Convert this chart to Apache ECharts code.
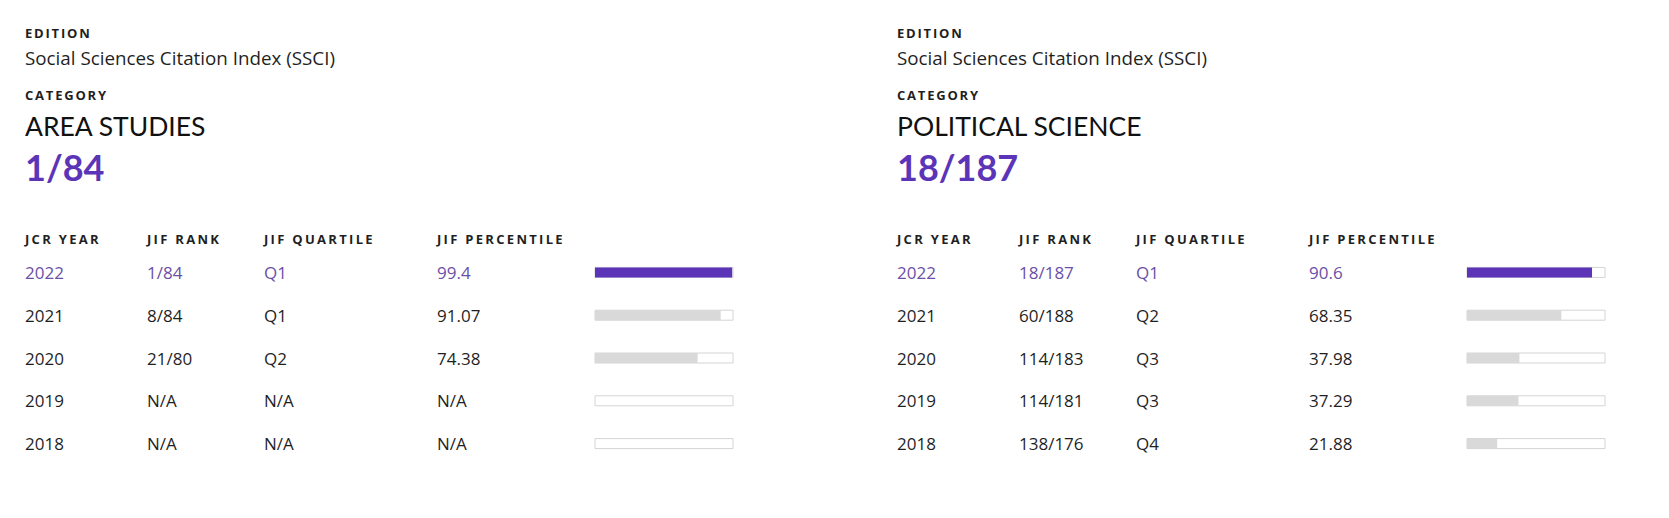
<!DOCTYPE html>
<html>
<head>
<meta charset="utf-8">
<script src="https://cdn.jsdelivr.net/npm/echarts@6/dist/echarts.min.js"></script>
<style>
  html, body { margin: 0; padding: 0; background: #fff; }
  #main { width: 1669px; height: 518px; }
</style>
</head>
<body>
<div id="main"></div>
<script>
const years = ['2022', '2021', '2020', '2019', '2018'];
const headers = ['JCR YEAR', 'JIF RANK', 'JIF QUARTILE', 'JIF PERCENTILE'];

const editions = ['Social Sciences Citation Index (SSCI)', 'Social Sciences Citation Index (SSCI)'];
const categories = ['AREA STUDIES', 'POLITICAL SCIENCE'];
const currentRanks = ['1/84', '18/187'];

const ranksA = ['1/84', '8/84', '21/80', 'N/A', 'N/A'];
const quartilesA = ['Q1', 'Q1', 'Q2', 'N/A', 'N/A'];
const percentilesA = [99.4, 91.07, 74.38, null, null];

const ranksB = ['18/187', '60/188', '114/183', '114/181', '138/176'];
const quartilesB = ['Q1', 'Q2', 'Q3', 'Q3', 'Q4'];
const percentilesB = [90.6, 68.35, 37.98, 37.29, 21.88];

const FONT = '"Open Sans", "Noto Sans", sans-serif';
const HEAD_FONT = 'Lato, "Open Sans", sans-serif';
const PURPLE = '#5b34b8';
const TEXT_PURPLE = '#6a50a6';
const DARK = '#1f1f1f';

const panelX = [25, 897];
const colX = [0, 122, 239, 412];
const barX = 570;

let titles = [], grids = [], xAxes = [], yAxes = [], series = [];

function panel(i, ranks, quartiles, pcts) {
    const x0 = panelX[i];
    const t = (text, top, size, weight, color, family) => ({
        text: text, left: x0, top: top, padding: 0,
        textStyle: { fontFamily: family || FONT, fontSize: size, fontWeight: weight, color: color, lineHeight: size }
    });
    titles.push(t('EDITION', 26, 13, 'bold', DARK));
    titles.push(t(editions[i], 49, 18.8, 'normal', DARK));
    titles.push(t('CATEGORY', 88.5, 13, 'bold', DARK));
    titles.push(t(categories[i], 113, 26.5, 'normal', '#111', HEAD_FONT));
    titles.push(t(currentRanks[i], 149, 36, 'bold', PURPLE, HEAD_FONT));

    grids.push({ left: x0 + barX, top: 251, width: 138, height: 214 });
    xAxes.push({ gridIndex: i, type: 'value', min: 0, max: 100, show: false });

    const pctLabels = pcts.map(v => v == null ? 'N/A' : String(v));
    const columns = [years, ranks, quartiles, pctLabels];
    const yBase = yAxes.length;
    // hidden axis carrying the bars
    yAxes.push({ gridIndex: i, type: 'category', inverse: true, data: years, show: false });
    columns.forEach((col, c) => {
        yAxes.push({
            gridIndex: i, type: 'category', inverse: true, data: col,
            position: 'left', offset: barX - colX[c],
            axisLine: { show: false }, axisTick: { show: false },
            name: headers[c], nameLocation: 'start', nameGap: 12,
            nameTextStyle: { fontFamily: FONT, fontSize: 13, fontWeight: 'bold', color: DARK, align: 'left', verticalAlign: 'middle' },
            axisLabel: {
                margin: 0, align: 'left', fontFamily: FONT, fontSize: 17,
                color: (val, idx) => idx === 0 ? TEXT_PURPLE : DARK
            }
        });
    });

    series.push({
        type: 'bar', xAxisIndex: i, yAxisIndex: yBase, barWidth: 10,
        showBackground: true,
        backgroundStyle: { color: '#fff', borderColor: '#d4d4d4', borderWidth: 1 },
        data: pcts.map((v, k) => ({ value: v, itemStyle: { color: k === 0 ? PURPLE : '#d9d9d9' } })),
        silent: true
    });
}

panel(0, ranksA, quartilesA, percentilesA);
panel(1, ranksB, quartilesB, percentilesB);

const myChart = echarts.init(document.getElementById('main'), null, { renderer: 'svg' });
myChart.setOption({
    animation: false,
    title: titles,
    grid: grids,
    xAxis: xAxes,
    yAxis: yAxes,
    series: series
});

// tracked small caps labels, like the original page
const spaced = headers.concat(['EDITION', 'CATEGORY']);
function trackLabels() {
    document.querySelectorAll('#main svg text').forEach(function (el) {
        if (spaced.indexOf(el.textContent.trim()) >= 0) {
            el.setAttribute('letter-spacing', headers.indexOf(el.textContent.trim()) >= 0 ? '2.3' : '1.8');
        }
    });
}
trackLabels();
myChart.on('finished', trackLabels);

window.addEventListener('resize', function () { myChart.resize(); }, false);
</script>
</body>
</html>
